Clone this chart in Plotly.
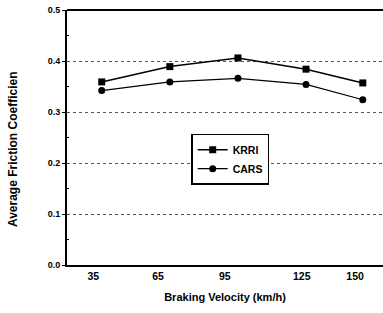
import plotly.graph_objects as go

velocity = [35, 65, 95, 125, 150]
krri = [0.359, 0.389, 0.406, 0.384, 0.357]
cars = [0.342, 0.359, 0.366, 0.354, 0.324]
x_tick_labels = ["35", "65", "95", "125", "150"]
y_ticks = [0.0, 0.1, 0.2, 0.3, 0.4, 0.5]

# style: small horizontal misregistration of the printed tick labels (axis units)
label_shift = [-3.7, -5.2, -5.8, -1.9, -3.4]
tick_pos = [v + s for v, s in zip(velocity, label_shift)]

font = "Liberation Sans, Arial, sans-serif"

fig = go.Figure()
fig.add_trace(go.Scatter(x=velocity, y=krri, name="KRRI", mode="lines+markers",
                         line=dict(color="black", width=1.5),
                         marker=dict(symbol="square", size=7, color="black")))
fig.add_trace(go.Scatter(x=velocity, y=cars, name="CARS", mode="lines+markers",
                         line=dict(color="black", width=1.2),
                         marker=dict(symbol="circle", size=7, color="black")))

fig.update_layout(
    width=383, height=313,
    margin=dict(l=67, r=0, t=10, b=48),
    plot_bgcolor="white", paper_bgcolor="white",
    font=dict(family=font, color="black"),
    showlegend=True,
    legend=dict(x=0.393, y=0.515, xanchor="left", yanchor="top",
                bordercolor="black", borderwidth=1.5, bgcolor="white",
                font=dict(size=10.5, family=font, weight="bold"),
                itemwidth=30, tracegroupgap=0),
    shapes=[dict(type="line", xref="paper", yref="paper", x0=0, x1=1, y0=1, y1=1,
                 line=dict(color="black", width=2))],
    annotations=[dict(text="Average Friction Coefficien", xref="paper", yref="paper",
                      x=-0.173, y=0.456, xanchor="center", yanchor="middle",
                      textangle=-90, showarrow=False,
                      font=dict(size=12, family=font, weight="bold"))],
)
fig.update_xaxes(
    range=[19.7, 158.9], tickvals=tick_pos, ticktext=x_tick_labels,
    showline=True, linecolor="black", linewidth=2,
    showgrid=False, zeroline=False, ticks="", automargin=False,
    tickfont=dict(size=10.5, family=font, weight="bold"),
    title=dict(text="Braking Velocity (km/h)", font=dict(size=11, family=font, weight="bold"), standoff=13),
)
fig.update_yaxes(
    range=[0, 0.5], tickvals=y_ticks, tickformat=".1f",
    showline=True, linecolor="black", linewidth=2,
    showgrid=True, gridcolor="#555", griddash="dot", gridwidth=1,
    zeroline=False, ticks="outside", ticklen=3, tickwidth=1, tickcolor="black",
    automargin=False,
    minor=dict(tickvals=[0.05, 0.15, 0.25, 0.35, 0.45], ticks="inside", ticklen=2, tickcolor="black", showgrid=False),
    tickfont=dict(size=9, family=font, weight="bold"),
)

fig.write_html("out.html",
               config={"displayModeBar": False},
               post_script=("document.documentElement.style.overflow='hidden';"
                            "document.documentElement.style.scrollbarWidth='none';"
                            "document.body.style.margin='0';"
                            "document.body.style.overflow='hidden';"))
